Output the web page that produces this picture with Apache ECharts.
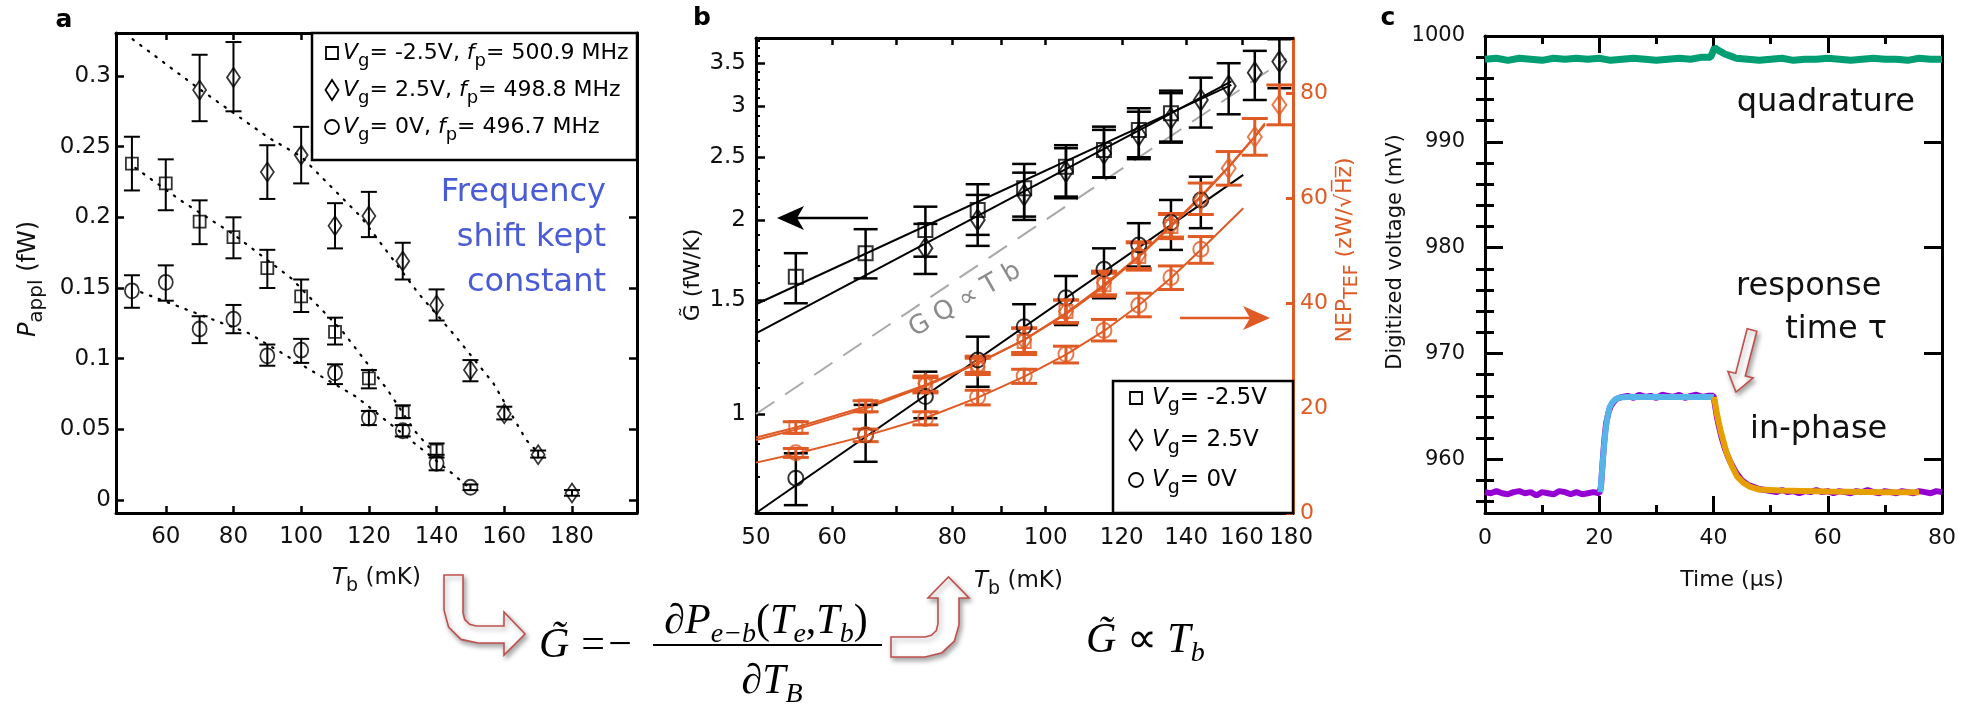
<!DOCTYPE html>
<html><head><meta charset="utf-8">
<script src="https://cdn.jsdelivr.net/npm/echarts@6/dist/echarts.min.js"></script>
<style>html,body{margin:0;padding:0;background:#fff}#c{width:1971px;height:704px}</style>
</head><body><div id="c"></div>
<script>
// ---------- Panel a : P_appl vs T_b ----------
const aTsq=[50,60,70,80,90,100,110,120,130,140];
const aPsq=[0.238,0.224,0.197,0.186,0.164,0.144,0.119,0.086,0.062,0.035];
const aPsqLo=[0.219,0.205,0.181,0.171,0.150,0.133,0.110,0.079,0.058,0.032];
const aPsqHi=[0.257,0.241,0.212,0.200,0.177,0.156,0.129,0.092,0.067,0.040];
const aTdi=[70,80,90,100,110,120,130,140,150,160,170,180];
const aPdi=[0.290,0.299,0.232,0.244,0.194,0.201,0.169,0.138,0.092,0.061,0.032,0.005];
const aPdiLo=[0.268,0.275,0.213,0.224,0.178,0.186,0.156,0.127,0.084,0.057,0.030,0.003];
const aPdiHi=[0.315,0.324,0.251,0.264,0.210,0.218,0.182,0.149,0.099,0.066,0.035,0.007];
const aTci=[50,60,70,80,90,100,110,120,130,140,150];
const aPci=[0.148,0.154,0.121,0.128,0.102,0.106,0.090,0.058,0.049,0.026,0.009];
const aPciLo=[0.136,0.141,0.111,0.118,0.095,0.097,0.082,0.053,0.045,0.021,0.007];
const aPciHi=[0.159,0.166,0.130,0.138,0.110,0.114,0.096,0.063,0.053,0.030,0.011];
const aFitDiT=[50.2,69.8,90.6,100,117.6,134.7,145.7,156.8,166.5,169];
const aFitDiP=[0.326,0.291,0.256,0.243,0.2005,0.146,0.1155,0.0825,0.0424,0.036];
const aFitSqT=[51,65,80,97,112,125.5,133.5,139];
const aFitSqP=[0.235,0.211,0.188,0.157,0.120,0.078,0.049,0.034];
const aFitCiT=[52.7,84.5,104.1,116.3,144.5,149.5];
const aFitCiP=[0.147,0.118,0.090,0.073,0.019,0.009];
const aXTicks=[60,80,100,120,140,160,180];
const aYTicks=[0,0.05,0.1,0.15,0.2,0.25,0.3];

// ---------- Panel b : G~ (log) and NEP ----------
const bTsq=[55,65,75,85,95,105,115,125,135];
const bGsq=[1.633,1.776,1.930,2.073,2.240,2.419,2.568,2.759,2.928];
const bGsqLo=[1.485,1.623,1.754,1.896,2.000,2.161,2.326,2.485,2.646];
const bGsqHi=[1.776,1.935,2.097,2.272,2.443,2.612,2.791,2.981,3.174];
const bTdi=[75,85,95,105,115,125,135,145,155,165,175];
const bGdi=[1.808,2.000,2.187,2.377,2.538,2.709,2.876,3.070,3.228,3.385,3.522];
const bGdiLo=[1.649,1.823,2.024,2.174,2.329,2.502,2.636,2.782,2.917,3.070,3.202];
const bGdiHi=[1.972,2.187,2.368,2.584,2.759,2.944,3.146,3.325,3.501,3.659,3.814];
const bTci=[55,65,75,85,95,105,115,125,135,145];
const bGci=[0.795,0.928,1.064,1.213,1.366,1.515,1.677,1.829,1.981,2.148];
const bGciLo=[0.722,0.843,0.985,1.102,1.239,1.374,1.512,1.693,1.797,1.942];
const bGciHi=[0.869,1.033,1.163,1.318,1.480,1.637,1.807,1.977,2.148,2.334];
const bFitSqT=[50,156], bFitSqG=[1.48,3.24];
const bFitDiT=[50,156], bFitDiG=[1.334,3.28];
const bFitCiT=[50,160.5], bFitCiG=[0.702,2.349];
const bPropT=[50,178], bPropG=[1.0,3.56];
const nTsq=[55,65,75,85,95,105,115,125,135];
const nSq=[16.3,20.4,24.4,28.2,32.7,38.4,43.5,48.9,54.6];
const nSqLo=[15.2,19.3,22.9,26.8,30.2,36.2,41.3,46.3,52.3];
const nSqHi=[17.4,21.4,25.8,29.9,35.2,40.6,45.7,51.5,56.9];
const nTdi=[75,85,95,105,115,125,135,145,155,165,175];
const nDi=[24.7,27.9,33.0,38.4,43.9,49.2,54.9,59.7,65.7,71.7,77.8];
const nDiLo=[23.2,26.4,30.6,36.3,41.6,46.6,52.6,56.9,62.5,68.2,74.0];
const nDiHi=[26.1,29.5,35.3,40.6,46.1,51.7,57.1,62.9,68.9,75.2,81.6];
const nTci=[55,65,75,85,95,105,115,125,135,145];
const nCi=[11.5,14.9,18.0,22.1,26.1,30.3,34.8,39.6,44.9,50.3];
const nCiLo=[10.6,13.6,16.8,20.6,24.7,28.6,32.8,37.4,42.6,47.6];
const nCiHi=[12.3,16.0,19.3,23.4,27.4,31.8,36.9,41.9,47.1,52.7];
const nFitSqT=[50,55,65,75,85,95,105,115,125,135,145,155,165,169];
const nFitSq=[14.4,16.3,20.3,24.4,28.6,33.0,37.9,43.2,48.8,54.6,60.2,65.9,71.7,74.0];
const nFitDiT=[50,55,65,75,85,95,105,115,125,135,145,155,165,169];
const nFitDi=[13.9,15.9,19.9,24.2,28.5,33.0,38.1,43.5,49.0,54.8,60.4,66.0,71.8,74.3];
const nFitCiT=[50,55,65,75,85,95,105,115,125,135,145,160.5];
const nFitCi=[9.6,11.3,14.7,18.1,22.0,26.0,30.2,34.7,39.6,44.8,50.2,58.1];
const bXLabels=[50,60,80,100,120,140,160,180];
const bXTicks=[60,70,80,90,100,120,140,160];
const bYMajor=[1,1.5,2,2.5,3,3.5];
const bYMinor=[0.8,0.9,1.1,1.2,1.3,1.4,1.6,1.7,1.8,1.9,2.1,2.2,2.3,2.4,2.6,2.7,2.8,2.9,3.1,3.2,3.3,3.4,3.6,3.7,3.8];
const bNEPTicks=[0,20,40,60,80];

// ---------- Panel c : digitized voltage vs time ----------
const cQuadT=[0,2,4,6,8,10,12,14,16,18,20,22,24,26,28,30,32,34,36,38,39.5,40.2,41,42,43,44,46,48,50,52,54,56,58,60,62,64,66,68,70,72,74,76,78,80];
const cQuadV=[997.8,997.9,997.7,997.9,997.8,997.7,997.9,997.8,997.9,997.8,997.9,997.7,997.8,997.9,997.8,997.7,997.8,997.9,997.8,998.0,998.0,998.9,998.6,998.3,998.1,997.9,997.8,997.7,997.8,997.9,997.7,997.8,997.8,997.9,997.8,997.7,997.8,997.9,997.8,997.8,997.7,997.9,997.8,997.8];
const cInT=[0,1,2,3,4,5,6,7,8,9,10,11,12,13,14,15,16,17,18,19,20.0,20.3,20.6,20.9,21.2,21.6,22.0,22.5,23.0,24,25,26,27,28,29,30,31,32,33,34,35,36,37,38,39,40.0,40.3,40.6,41.0,41.5,42.0,42.5,43.0,44,45,46,47,48,49,50,51,52,53,54,55,56,57,58,59,60,61,62,63,64,65,66,67,68,69,70,71,72,73,74,75,76,77,78,79,80];
const cInV=[956.9,956.8,957.0,956.8,956.7,956.9,957.0,956.8,956.9,956.6,956.9,956.8,956.7,957.0,956.9,956.7,956.9,956.7,956.8,956.9,956.8,957.4,959.8,961.9,963.4,964.4,965.0,965.4,965.7,965.9,966.0,965.8,966.1,965.9,966.0,965.8,966.1,966.0,965.9,966.1,965.8,966.0,966.1,965.9,966.0,966.0,965.0,964.0,963.0,961.9,961.0,960.3,959.7,958.7,958.0,957.6,957.4,957.2,957.1,957.0,956.9,957.1,956.9,957.0,956.8,957.0,956.9,957.1,956.9,957.0,956.8,957.0,956.9,956.8,957.0,956.9,957.1,956.9,956.8,957.0,956.9,956.8,957.0,956.9,956.8,957.0,956.9,956.8,957.0,956.9];
const cRiseT=[20.2,20.5,20.8,21.1,21.4,21.8,22.3,22.9,23.6,25,30,35,40.1];
const cRiseV=[956.9,959.0,961.0,962.7,963.9,964.9,965.4,965.7,965.85,965.9,965.9,965.9,965.9];
const cDecT=[40.1,40.6,41.2,41.8,42.3,43.2,44.1,45.2,46.4,48,51.7,60,70,76];
const cDecV=[965.9,964.3,962.8,961.6,960.6,959.4,958.4,957.8,957.4,957.15,957.05,956.95,956.9,956.9];
const cXMajor=[0,20,40,60,80];
const cXMinor=[10,30,50,70];
const cYMajor=[960,970,980,990,1000];
const cYMinor=[956,958,962,964,966,968,972,974,976,978,982,984,986,988,992,994,996,998];

// ---------- helpers ----------
const ORANGE='#e05a24', SANS='DejaVu Sans', SERIF='Liberation Serif';
function pairs(xs, ys){ return xs.map((x,i)=>[x, ys[i]]); }
function errBars(xs, lo, hi, xi, yi, color, cap, lw){
  return {type:'custom', xAxisIndex:xi, yAxisIndex:yi, silent:true, z:3,
    data: xs.map((x,i)=>[x, lo[i], hi[i]]),
    encode:{x:0, y:[1,2]},
    renderItem(params, api){
      const p1=api.coord([api.value(0), api.value(1)]);
      const p2=api.coord([api.value(0), api.value(2)]);
      const h=cap/2, st={stroke:color, lineWidth:lw};
      return {type:'group', children:[
        {type:'line', shape:{x1:p1[0],y1:p1[1],x2:p2[0],y2:p2[1]}, style:st},
        {type:'line', shape:{x1:p1[0]-h,y1:p1[1],x2:p1[0]+h,y2:p1[1]}, style:st},
        {type:'line', shape:{x1:p2[0]-h,y1:p2[1],x2:p2[0]+h,y2:p2[1]}, style:st}]};
    }};
}
function marks(xs, ys, xi, yi, symbol, size, color, bw){
  return {type:'scatter', xAxisIndex:xi, yAxisIndex:yi, data:pairs(xs,ys), symbol, symbolSize:size,
    itemStyle:{color:'rgba(0,0,0,0)', borderColor:color, borderWidth:bw}, silent:true, z:4};
}
function line(xs, ys, xi, yi, style, z){
  return {type:'line', xAxisIndex:xi, yAxisIndex:yi, data:pairs(xs,ys), showSymbol:false, symbol:'none',
    lineStyle:style, silent:true, z:z||2, smooth:false};
}
function axis(o){
  const base={splitLine:{show:false}, axisLine:{show:true,onZero:false,lineStyle:{color:'#000',width:3}},
    axisTick:{show:false}, axisLabel:{show:false}};
  return Object.assign(base, o);
}
function ticks(vals, len, color, w){ return {show:true, inside:true, length:len, customValues:vals, lineStyle:{color:color||'#000', width:w||2.5}}; }
function labels(vals, size, margin, fmt, color){ return {show:true, customValues:vals, fontSize:size, fontFamily:SANS, color:color||'#111', margin, formatter:fmt, hideOverlap:false}; }
const noLine={show:false};
const fmt0=v=>String(Math.round(v));
const fmt2=v=>String(Math.round(v*100)/100);
const fmt1=v=>String(Math.round(v*10)/10);

const xAxis=[
  axis({gridIndex:0, type:'value', position:'bottom', min:45.3, max:199.2, axisTick:ticks(aXTicks,7), axisLabel:labels(aXTicks,23,13,fmt0)}),
  axis({gridIndex:0, type:'value', position:'top', min:45.3, max:199.2, axisTick:ticks(aXTicks,7)}),
  axis({gridIndex:1, type:'log', logBase:10, position:'bottom', min:50, max:180.8, axisTick:ticks(bXTicks,7), axisLabel:labels(bXLabels,23,14,fmt0)}),
  axis({gridIndex:1, type:'log', logBase:10, position:'top', min:50, max:180.8, axisTick:ticks(bXTicks,7)}),
  axis({gridIndex:2, type:'value', position:'bottom', min:0, max:80, axisTick:ticks(cXMajor,17,'#000',3), axisLabel:labels(cXMajor,22,14,fmt0)}),
  axis({gridIndex:2, type:'value', position:'bottom', min:0, max:80, axisLine:noLine, axisTick:ticks(cXMinor,8,'#000',3)}),
  axis({gridIndex:2, type:'value', position:'top', min:0, max:80, axisTick:ticks(cXMajor,17,'#000',3)}),
  axis({gridIndex:2, type:'value', position:'top', min:0, max:80, axisLine:noLine, axisTick:ticks(cXMinor,8,'#000',3)})
];
const yAxis=[
  axis({gridIndex:0, type:'value', position:'left', min:-0.0092, max:0.3304, axisTick:ticks(aYTicks,8), axisLabel:labels(aYTicks,23,5,fmt2)}),
  axis({gridIndex:0, type:'value', position:'right', min:-0.0092, max:0.3304, axisTick:ticks(aYTicks,8)}),
  axis({gridIndex:1, type:'log', logBase:10, position:'left', min:0.702, max:3.831, axisTick:ticks(bYMajor,9), axisLabel:labels(bYMajor,23,10,fmt1)}),
  axis({gridIndex:1, type:'log', logBase:10, position:'left', min:0.702, max:3.831, axisLine:noLine, axisTick:ticks(bYMinor,4,'#000',2)}),
  axis({gridIndex:1, type:'value', position:'right', min:0, max:90.55, axisLine:{show:true,onZero:false,lineStyle:{color:ORANGE,width:3}}, axisTick:ticks(bNEPTicks,7,ORANGE,3), axisLabel:labels(bNEPTicks,22,7,fmt0,ORANGE)}),
  axis({gridIndex:2, type:'value', position:'left', min:954.93, max:1000, axisTick:ticks(cYMajor,18,'#000',3), axisLabel:labels(cYMajor,21,20,fmt0)}),
  axis({gridIndex:2, type:'value', position:'left', min:954.93, max:1000, axisLine:noLine, axisTick:ticks(cYMinor,9,'#000',3)}),
  axis({gridIndex:2, type:'value', position:'right', min:954.93, max:1000, axisTick:ticks(cYMajor,18,'#000',3)}),
  axis({gridIndex:2, type:'value', position:'right', min:954.93, max:1000, axisLine:noLine, axisTick:ticks(cYMinor,9,'#000',3)})
];

const dotted={color:'#000', width:2.2, type:[1.5,8], cap:'round'};
const series=[
  // panel a
  line(aFitDiT,aFitDiP,0,0,dotted), line(aFitSqT,aFitSqP,0,0,dotted), line(aFitCiT,aFitCiP,0,0,dotted),
  errBars(aTsq,aPsqLo,aPsqHi,0,0,'#000',16,2), errBars(aTdi,aPdiLo,aPdiHi,0,0,'#000',16,2), errBars(aTci,aPciLo,aPciHi,0,0,'#000',16,2),
  marks(aTsq,aPsq,0,0,'rect',[12,12],'#000',1.8), marks(aTdi,aPdi,0,0,'diamond',[13,19],'#000',1.8), marks(aTci,aPci,0,0,'circle',[14,15],'#000',1.8),
  // panel b
  line(bPropT,bPropG,2,2,{color:'#a8a8a8',width:2,type:[22,13]},1),
  line(bFitSqT,bFitSqG,2,2,{color:'#000',width:2}), line(bFitDiT,bFitDiG,2,2,{color:'#000',width:2}), line(bFitCiT,bFitCiG,2,2,{color:'#000',width:2}),
  line(nFitSqT,nFitSq,2,4,{color:ORANGE,width:2}), line(nFitDiT,nFitDi,2,4,{color:ORANGE,width:2}), line(nFitCiT,nFitCi,2,4,{color:ORANGE,width:2}),
  errBars(bTsq,bGsqLo,bGsqHi,2,2,'#000',24,2.5), errBars(bTdi,bGdiLo,bGdiHi,2,2,'#000',24,2.5), errBars(bTci,bGciLo,bGciHi,2,2,'#000',24,2.5),
  errBars(nTsq,nSqLo,nSqHi,2,4,ORANGE,26,3), errBars(nTdi,nDiLo,nDiHi,2,4,ORANGE,26,3), errBars(nTci,nCiLo,nCiHi,2,4,ORANGE,26,3),
  marks(bTsq,bGsq,2,2,'rect',[14,14],'#000',2), marks(bTdi,bGdi,2,2,'diamond',[14,21],'#000',2), marks(bTci,bGci,2,2,'circle',[15,15],'#000',2),
  marks(nTsq,nSq,2,4,'rect',[13,13],ORANGE,2), marks(nTdi,nDi,2,4,'diamond',[14,20],ORANGE,2), marks(nTci,nCi,2,4,'circle',[15,15],ORANGE,2),
  // panel c
  line(cQuadT,cQuadV,4,5,{color:'#009e73',width:7},2),
  line(cInT,cInV,4,5,{color:'#9400d3',width:6},2),
  line(cRiseT,cRiseV,4,5,{color:'#56b4e9',width:6},3),
  line(cDecT,cDecV,4,5,{color:'#e69f00',width:6},3)
];

// ---------- text / annotation graphics ----------
function rich(size, sub, pad, color, fam, subItalic){
  fam=fam||SANS; color=color||'#111';
  return {
    n:{fontSize:size, fontFamily:fam, fill:color, verticalAlign:'middle'},
    i:{fontSize:size, fontFamily:fam, fill:color, fontStyle:'italic', verticalAlign:'middle'},
    s:{fontSize:sub, fontFamily:fam, fill:color, padding:[pad,0,0,0], verticalAlign:'middle', fontStyle: subItalic?'italic':'normal'}
  };
}
function T(x,y,text,opt,rotation){
  const g={type:'text', x, y, z:100, silent:true,
    style:Object.assign({text, fill:'#111', fontSize:22, fontFamily:SANS, align:'left', verticalAlign:'middle', textAlign:'left', textVerticalAlign:'middle'}, opt||{})};
  if(rotation) g.rotation=rotation;
  return g;
}
const C={align:'center', textAlign:'center'};
const arrowStyle={fill:'#fff', stroke:'#c0504d', lineWidth:1.6, shadowBlur:5, shadowColor:'rgba(0,0,0,0.35)', shadowOffsetX:2, shadowOffsetY:3};
const leg=rich(22,18,16,'#000');
const legB=rich(23,19,16,'#000');
const eq=rich(42,28,26,'#000',SERIF,true);
const R90=Math.PI/2;
const graphics=[
  T(64,20,'a',Object.assign({fontSize:25,fontWeight:'bold',fill:'#000'},C)),
  T(702,18,'b',Object.assign({fontSize:25,fontWeight:'bold',fill:'#000'},C)),
  T(1388,18,'c',Object.assign({fontSize:25,fontWeight:'bold',fill:'#000'},C)),
  // panel a legend
  {type:'rect', z:90, silent:true, shape:{x:312,y:33,width:325,height:127}, style:{fill:'#fff', stroke:'#000', lineWidth:2.5}},
  {type:'rect', z:95, silent:true, shape:{x:326,y:47,width:12,height:12}, style:{fill:'none', stroke:'#000', lineWidth:1.8}},
  {type:'polygon', z:95, silent:true, shape:{points:[[332,80],[338.5,90],[332,100],[325.5,90]]}, style:{fill:'none', stroke:'#000', lineWidth:1.8}},
  {type:'circle', z:95, silent:true, shape:{cx:332,cy:127,r:7}, style:{fill:'none', stroke:'#000', lineWidth:1.8}},
  T(343,53,'{i|V}{s|g}{n|= -2.5V, }{i|f}{s|p}{n|= 500.9 MHz}',{rich:leg}),
  T(343,90,'{i|V}{s|g}{n|= 2.5V, }{i|f}{s|p}{n|= 498.8 MHz}',{rich:leg}),
  T(343,127,'{i|V}{s|g}{n|= 0V, }{i|f}{s|p}{n|= 496.7 MHz}',{rich:leg}),
  T(606,238,'Frequency\nshift kept\nconstant',{fontSize:32, fill:'#4a5bd6', align:'right', textAlign:'right', lineHeight:45}),
  T(29,279,'{i|P}{s|appl}{n| (fW)}',Object.assign({rich:rich(24,20,16)},C),R90),
  T(332,578,'{i|T}{s|b}{n| (mK)}',{rich:rich(23,19,16)}),
  // panel b legend
  {type:'rect', z:90, silent:true, shape:{x:1113,y:381,width:180,height:132}, style:{fill:'#fff', stroke:'#000', lineWidth:2.5}},
  {type:'rect', z:95, silent:true, shape:{x:1130,y:392,width:12,height:12}, style:{fill:'none', stroke:'#000', lineWidth:1.8}},
  {type:'polygon', z:95, silent:true, shape:{points:[[1136,430],[1142.5,440],[1136,450],[1129.5,440]]}, style:{fill:'none', stroke:'#000', lineWidth:1.8}},
  {type:'circle', z:95, silent:true, shape:{cx:1136,cy:480,r:7}, style:{fill:'none', stroke:'#000', lineWidth:1.8}},
  T(1152,398,'{i|V}{s|g}{n|= -2.5V}',{rich:legB}),
  T(1152,440,'{i|V}{s|g}{n|= 2.5V}',{rich:legB}),
  T(1152,480,'{i|V}{s|g}{n|= 0V}',{rich:legB}),
  T(693,275,'G\u0303 (fW/K)',Object.assign({fontSize:22},C),R90),
  T(1345,250,'{n|NEP}{s|TEF}{n| (zW/\u221AH\u0305z\u0305)}',Object.assign({rich:rich(22,19,14,ORANGE)},C),R90),
  T(974,581,'{i|T}{s|b}{n| (mK)}',{rich:rich(23,19,16)}),
  T(965,300,'G Q \u221D T b',Object.assign({fontSize:26, fill:'#8c8c8c'},C),30*Math.PI/180),
  // black & orange arrows in panel b
  {type:'line', z:95, silent:true, shape:{x1:797,y1:218,x2:868,y2:218}, style:{stroke:'#000', lineWidth:2.5}},
  {type:'polygon', z:95, silent:true, shape:{points:[[777,218],[804,206],[797,218],[804,230]]}, style:{fill:'#000'}},
  {type:'line', z:95, silent:true, shape:{x1:1180,y1:318,x2:1250,y2:318}, style:{stroke:ORANGE, lineWidth:2.5}},
  {type:'polygon', z:95, silent:true, shape:{points:[[1270,318],[1243,306],[1250,318],[1243,330]]}, style:{fill:ORANGE}},
  // panel c texts
  T(1396,252,'Digitized voltage (mV)',Object.assign({fontSize:21},C),R90),
  T(1732,580,'Time (\u00B5s)',Object.assign({fontSize:22},C)),
  T(1915,103,'quadrature',{fontSize:32, align:'right', textAlign:'right'}),
  T(1736,287,'response',{fontSize:32}),
  T(1887,330,'time \u03C4',{fontSize:32, align:'right', textAlign:'right'}),
  T(1750,430,'in-phase',{fontSize:32}),
  {type:'polygon', z:96, silent:true, shape:{points:[[1747.2,328.8],[1735.7,373.4],[1727.9,371.4],[1736,392],[1753.1,377.9],[1745.3,375.9],[1756.8,331.3]]}, style:arrowStyle},
  // equation and bent arrows
  {type:'polygon', z:96, silent:true, shape:{points:[[444,575],[463,575],[463,613],[464.7,619.5],[469.5,624.3],[476,626],[504,626],[504,612],[525,634],[504,655],[504,643],[478,643],[461,639.4],[448.6,627],[444,610]]}, style:arrowStyle},
  {type:'polygon', z:96, silent:true, shape:{points:[[891,637],[925,637],[931.5,635.3],[936.3,630.5],[938,624],[938,598],[928,598],[948.5,577],[969,598],[959,598],[959,625],[954.4,641],[942,652.7],[925,657],[891,657]]}, style:arrowStyle},
  T(539,646,'{i|G\u0303}',{rich:eq}),
  T(593,646,'=',Object.assign({fontSize:42, fontFamily:SERIF, fill:'#000'},C)),
  T(620,646,'\u2212',Object.assign({fontSize:42, fontFamily:SERIF, fill:'#000'},C)),
  T(766,622,'{i|\u2202P}{s|e\u2212b}{n|(}{i|T}{s|e}{n|,}{i|T}{s|b}{n|)}',Object.assign({rich:eq},C)),
  {type:'line', z:95, silent:true, shape:{x1:653,y1:645,x2:882,y2:645}, style:{stroke:'#000', lineWidth:2.2}},
  T(772,682,'{i|\u2202T}{s|B}',Object.assign({rich:eq},C)),
  T(1086,641,'{i|G\u0303}{n| \u221D }{i|T}{s|b}',{rich:eq})
];

const chart=echarts.init(document.getElementById('c'), null, {renderer:'canvas'});
chart.setOption({
  animation:false,
  backgroundColor:'#fff',
  grid:[
    {left:116, top:33, width:521, height:480, outerBoundsMode:'none', containLabel:false},
    {left:756, top:38, width:537, height:475, outerBoundsMode:'none', containLabel:false},
    {left:1485, top:36, width:457, height:477, outerBoundsMode:'none', containLabel:false}
  ],
  xAxis, yAxis, series,
  graphic:{elements:graphics}
});
</script></body></html>
